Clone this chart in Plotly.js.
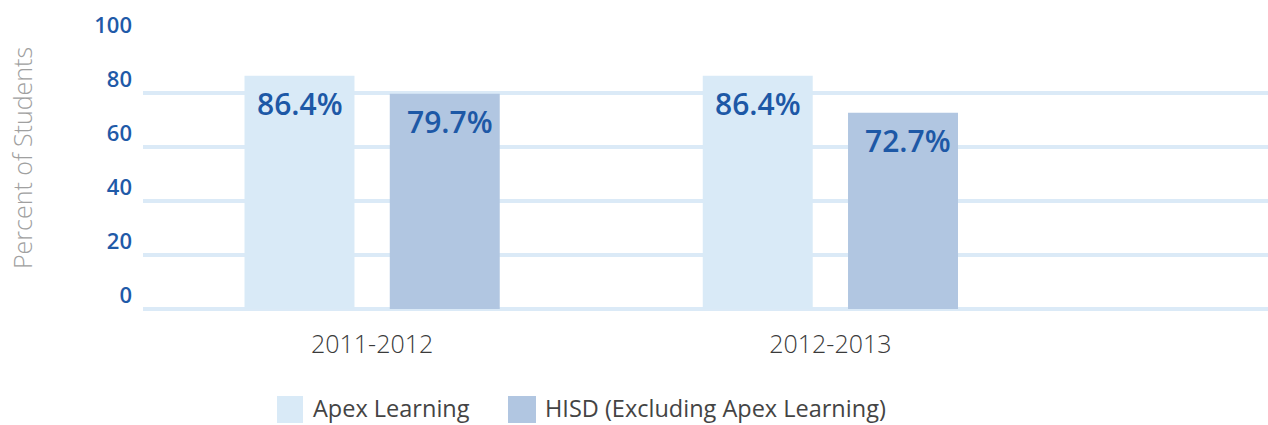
<!DOCTYPE html>
<html>
<head>
<meta charset="utf-8">
<script src="https://cdn.plot.ly/plotly-3.0.1.min.js"></script>
<style>html,body{margin:0;padding:0;background:#fff;}#chart{width:1268px;height:425px;}</style>
</head>
<body>
<div id="chart"></div>
<script>
const categories = ["2011-2012", "2012-2013"];
const apexValues = [86.4, 86.4];
const hisdValues = [79.7, 72.7];
const seriesNames = ["Apex Learning", "HISD (Excluding Apex Learning)"];
const seriesColors = ["#d9eaf7", "#b1c6e1"];
const yTicks = [0, 20, 40, 60, 80, 100];
const yTitle = "Percent of Students";

const FONT = "Open Sans, sans-serif";
const xIdx = categories.map((c, i) => i);
const labelFont = {family: FONT, size: 30, color: "#1d58a6", weight: 600};

// plot area geometry in pixels (for paper-coordinate conversion of legend / title)
const PL = 143, PR = 1268, PT = 39, PB = 309;
const px2x = p => (p - PL) / (PR - PL);
const px2y = p => (PB - p) / (PB - PT);

const traces = [
  {type: "bar", name: seriesNames[0], x: xIdx, y: apexValues,
   marker: {color: seriesColors[0]}, hoverinfo: "skip", showlegend: false},
  {type: "bar", name: seriesNames[1], x: xIdx, y: hisdValues,
   marker: {color: seriesColors[1]}, hoverinfo: "skip", showlegend: false}
];

const annotations = [];
// value labels inside the top of each bar
[[apexValues, -72.5, 0], [hisdValues, 72.5, 5]].forEach(([vals, xs, extra]) => {
  vals.forEach((v, i) => {
    annotations.push({x: xIdx[i], y: v, xref: "x", yref: "y", text: v.toFixed(1) + "%",
      showarrow: false, xanchor: "center", yanchor: "top", xshift: xs + extra, yshift: -5,
      font: labelFont});
  });
});
// y-axis title
annotations.push({x: px2x(22), y: px2y(158), xref: "paper", yref: "paper", text: yTitle,
  textangle: -90, showarrow: false, xanchor: "center", yanchor: "middle",
  font: {family: FONT, size: 25, color: "#a0a0a0", weight: 300}});

// custom legend
const legendItems = [{sw: [277, 303], tx: 312}, {sw: [508, 536], tx: 544}];
const shapes = [];
legendItems.forEach((it, k) => {
  shapes.push({type: "rect", xref: "paper", yref: "paper",
    x0: px2x(it.sw[0]), x1: px2x(it.sw[1]), y0: px2y(423), y1: px2y(396),
    fillcolor: seriesColors[k], line: {width: 0}});
  annotations.push({x: px2x(it.tx), y: px2y(408), xref: "paper", yref: "paper", text: seriesNames[k],
    showarrow: false, xanchor: "left", yanchor: "middle", borderpad: 0,
    font: {family: FONT, size: 23.5, color: "#444444"}});
});

const layout = {
  width: 1268, height: 425,
  margin: {l: PL, r: 1268 - PR, t: PT, b: 425 - PB},
  paper_bgcolor: "#ffffff", plot_bgcolor: "#ffffff",
  barmode: "group", bargap: 0.366, bargroupgap: 0.243,
  showlegend: false,
  xaxis: {range: [-0.5, 1.955], tickvals: xIdx, ticktext: categories, showgrid: false,
          zeroline: false, showline: false, ticks: "", ticklabelstandoff: 18,
          tickfont: {family: FONT, size: 25, color: "#3a3a3a", weight: 300}},
  yaxis: {range: [0, 100], tickvals: yTicks, showgrid: true, gridcolor: "#dbeaf7", gridwidth: 4,
          zeroline: true, zerolinecolor: "#dbeaf7", zerolinewidth: 4, showline: false, ticks: "",
          ticklabelshift: -14, ticklabelstandoff: 10,
          tickfont: {family: FONT, size: 22, color: "#1f5aa8", weight: 600}},
  annotations: annotations,
  shapes: shapes
};

Plotly.newPlot("chart", traces, layout, {displayModeBar: false, staticPlot: true});
</script>
</body>
</html>
